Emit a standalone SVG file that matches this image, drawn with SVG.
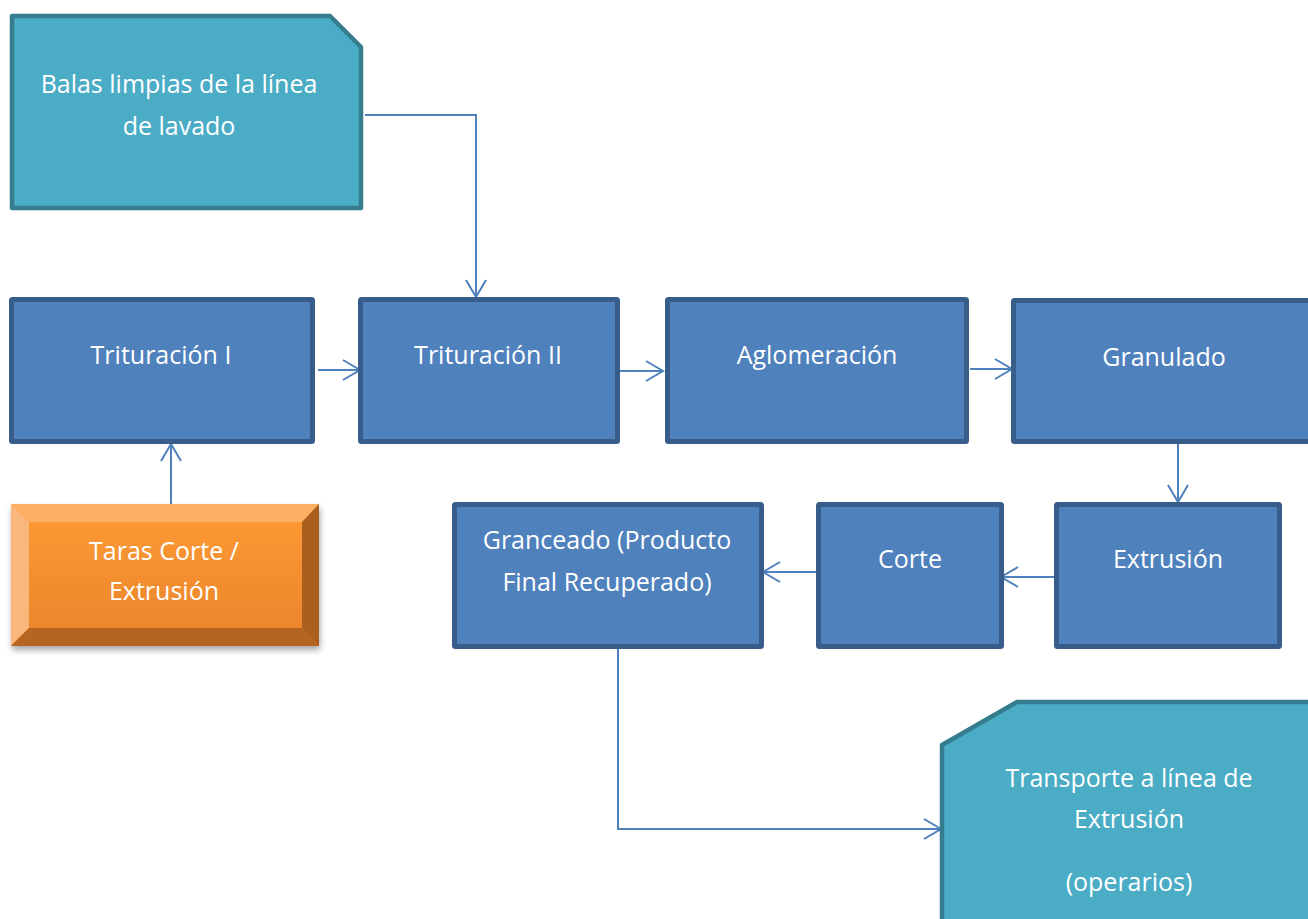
<svg xmlns="http://www.w3.org/2000/svg" width="1308" height="919" viewBox="0 0 1308 919">
<style>
.proc{fill:#4F81BD;stroke:#385D8A;stroke-width:5;stroke-linejoin:round}
.teal{fill:#4BACC6;stroke:#357D8E;stroke-width:4.5;stroke-linejoin:round}
.lbl{font-family:"Open Sans","Noto Sans","Liberation Sans",sans-serif;font-size:25px;fill:#FFFFFF;text-anchor:middle}
.conn{fill:none;stroke:#4F81BD;stroke-width:2}
</style>
<defs>
<marker id="arr" viewBox="0 0 20 22" refX="18" refY="11" markerWidth="20" markerHeight="22" markerUnits="userSpaceOnUse" orient="auto">
<path d="M1,1 L18,11 L1,21" fill="none" stroke="#4F81BD" stroke-width="2"/>
</marker>
<linearGradient id="orFace" x1="0" y1="0" x2="0" y2="1">
<stop offset="0" stop-color="#FF9B33"/>
<stop offset="1" stop-color="#E9832B"/>
</linearGradient>
<filter id="shadow" x="-10%" y="-10%" width="125%" height="130%">
<feDropShadow dx="1" dy="4" stdDeviation="3" flood-color="#000" flood-opacity="0.35"/>
</filter>
</defs>

<g id="connectors">
<path class="conn" d="M365,115 H476 V297" marker-end="url(#arr)"/>
<path class="conn" d="M318,370 H360" marker-end="url(#arr)"/>
<path class="conn" d="M620,371 H663" marker-end="url(#arr)"/>
<path class="conn" d="M970,369 H1012" marker-end="url(#arr)"/>
<path class="conn" d="M1178,440 V502" marker-end="url(#arr)"/>
<path class="conn" d="M1054,577 H1001" marker-end="url(#arr)"/>
<path class="conn" d="M817,572 H763" marker-end="url(#arr)"/>
<path class="conn" d="M618,647 V829 H941" marker-end="url(#arr)"/>
<path class="conn" d="M171,505 V444" marker-end="url(#arr)"/>
</g>

<g id="balas">
<path class="teal" d="M12,16 H330 L361,47 V208 H12 Z"/>
<text class="lbl" x="179" y="93">Balas limpias de la línea</text>
<text class="lbl" x="179" y="135">de lavado</text>
</g>

<g id="trituracion1">
<rect class="proc" x="11.5" y="299.5" width="301" height="142" rx="1"/>
<text class="lbl" x="161" y="364">Trituración I</text>
</g>

<g id="trituracion2">
<rect class="proc" x="360.5" y="299.5" width="257" height="142" rx="1"/>
<text class="lbl" x="488" y="364">Trituración II</text>
</g>

<g id="aglomeracion">
<rect class="proc" x="667.5" y="299.5" width="299" height="142" rx="1"/>
<text class="lbl" x="817" y="364">Aglomeración</text>
</g>

<g id="granulado">
<rect class="proc" x="1013.5" y="300.5" width="320" height="141" rx="1"/>
<text class="lbl" x="1164" y="366">Granulado</text>
</g>

<g id="extrusion">
<rect class="proc" x="1056.5" y="504.5" width="223" height="142" rx="1"/>
<text class="lbl" x="1168" y="568">Extrusión</text>
</g>

<g id="corte">
<rect class="proc" x="818.5" y="504.5" width="183" height="142" rx="1"/>
<text class="lbl" x="910" y="568">Corte</text>
</g>

<g id="granceado">
<rect class="proc" x="454.5" y="504.5" width="307" height="142" rx="1"/>
<text class="lbl" x="607" y="549">Granceado (Producto</text>
<text class="lbl" x="607" y="591">Final Recuperado)</text>
</g>

<g id="taras">
<g filter="url(#shadow)">
<rect x="11" y="504" width="308" height="142" fill="url(#orFace)"/>
</g>
<polygon points="11,504 319,504 302,522 29,522" fill="#FDB063"/>
<polygon points="11,504 29,522 29,628 11,646" fill="#F9B77C"/>
<polygon points="319,504 319,646 302,628 302,522" fill="#A9601F"/>
<polygon points="11,646 29,628 302,628 319,646" fill="#B4651F"/>
<text class="lbl" x="164" y="560">Taras Corte /</text>
<text class="lbl" x="164" y="600">Extrusión</text>
</g>

<g id="transporte">
<path class="teal" d="M942,745 L1017,702 H1330 V940 H942 Z"/>
<text class="lbl" x="1129" y="787">Transporte a línea de</text>
<text class="lbl" x="1129" y="828">Extrusión</text>
<text class="lbl" x="1129" y="891">(operarios)</text>
</g>
</svg>
